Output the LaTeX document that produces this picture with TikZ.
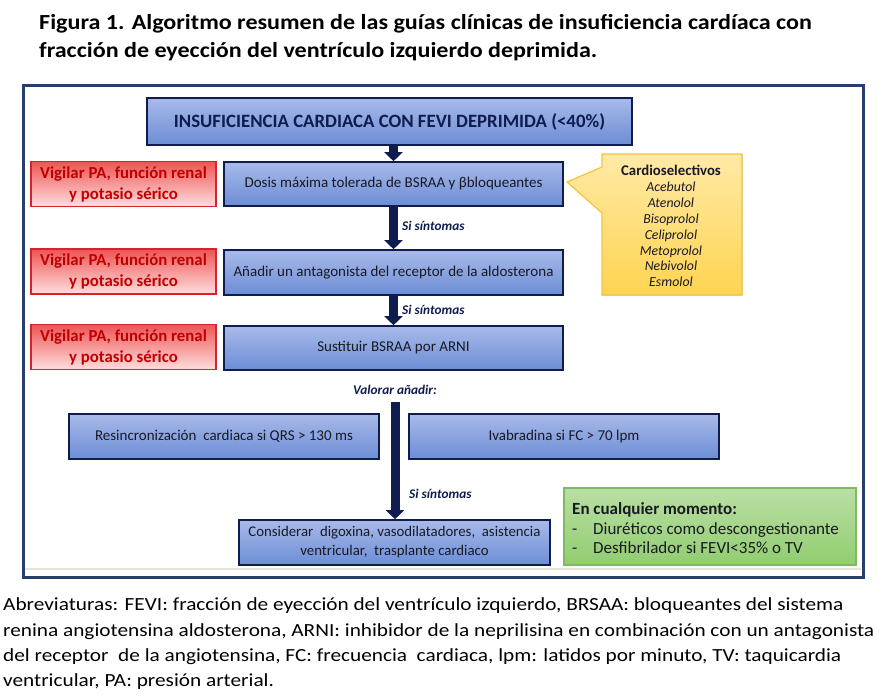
\documentclass[tikz,border=0pt]{standalone}
\usepackage{fontspec}
\setmainfont{Carlito}
\newfontfamily\widefont[FakeStretch=1.12]{Carlito}
\newfontfamily\abbrfont[FakeStretch=1.15]{Carlito}
\usetikzlibrary{arrows.meta}
\definecolor{framenavy}{RGB}{38,62,105}
\definecolor{dnavy}{RGB}{14,28,78}
\definecolor{bluetop}{RGB}{168,186,233}
\definecolor{bluebot}{RGB}{108,141,214}
\definecolor{redtop}{RGB}{238,84,84}
\definecolor{redbot}{RGB}{255,222,222}
\definecolor{redborder}{RGB}{214,36,44}
\definecolor{redtext}{RGB}{192,0,0}
\definecolor{greentop}{RGB}{186,223,164}
\definecolor{greenbot}{RGB}{145,205,112}
\definecolor{greenborder}{RGB}{128,186,96}
\definecolor{yeltop}{RGB}{255,234,165}
\definecolor{yelbot}{RGB}{255,212,82}
\definecolor{yelborder}{RGB}{244,196,64}
\definecolor{linegray}{RGB}{232,228,214}
\definecolor{boxtext}{RGB}{25,25,35}
\begin{document}
\begin{tikzpicture}[x=1pt,y=-1pt,
  bluebox/.style={rectangle, draw=dnavy, line width=1.6pt, top color=bluetop, bottom color=bluebot,
    inner sep=0pt, align=center, text=boxtext, font=\fontsize{15}{19}\selectfont},
  redbox/.style={rectangle, draw=redborder, line width=1.4pt, top color=redtop, bottom color=redbot,
    inner sep=0pt, align=center, text=redtext, font=\bfseries\fontsize{16.8}{21}\selectfont,
    minimum width=185pt, minimum height=45pt},
  flow/.style={draw=dnavy, line width=9pt, -{Triangle[width=18pt,length=9pt]}},
  sinto/.style={anchor=west, text=dnavy, font=\bfseries\itshape\fontsize{13.3}{15}\selectfont, inner sep=0pt},
  titletext/.style={anchor=base west, inner sep=0pt, font=\widefont\bfseries\fontsize{21.5}{28}\selectfont},
  abbrtext/.style={anchor=base west, inner sep=0pt, font=\abbrfont\fontsize{18.5}{25}\selectfont}
]
\useasboundingbox (0,0) rectangle (879,697);
% title
\node[titletext] (t1) at (39,29.5) {Figura 1. Algoritmo resumen de las guías clínicas de insuficiencia cardíaca con};
\node[titletext] (t2) at (39,57.5) {fracción de eyección del ventrículo izquierdo deprimida.};
% frame
\draw[framenavy, line width=3pt] (23,85) rectangle (863,577);
\draw[linegray, line width=1.5pt] (25,569) -- (861,569);
% main boxes
\node[bluebox, draw=dnavy, line width=2.8pt, minimum width=485pt, minimum height=47pt,
  text=dnavy, font=\bfseries\fontsize{18.8}{22}\selectfont] (top) at (389.5,121.5)
  {INSUFICIENCIA CARDIACA CON FEVI DEPRIMIDA (<40\%)};
\node[bluebox, minimum width=339pt, minimum height=44pt] (b2) at (393.5,184)
  {Dosis máxima tolerada de BSRAA y βbloqueantes};
\node[bluebox, minimum width=339pt, minimum height=45pt] (b3) at (393.5,272.5)
  {Añadir un antagonista del receptor de la aldosterona};
\node[bluebox, minimum width=339pt, minimum height=44pt] (b4) at (393.5,348)
  {Sustituir BSRAA por ARNI};
\node[bluebox, minimum width=310pt, minimum height=45pt] (resinc) at (224,436.5)
  {Resincronización\ \ cardiaca si QRS > 130 ms};
\node[bluebox, minimum width=310pt, minimum height=45pt] (ivab) at (564,436.5)
  {Ivabradina si FC > 70 lpm};
\node[bluebox, minimum width=311pt, minimum height=45pt, font=\fontsize{14.8}{19}\selectfont] (consider) at (394.5,542.5)
  {Considerar\ \ digoxina, vasodilatadores,\ \ asistencia\\ ventricular,\ \ trasplante cardiaco};
% red boxes
\node[redbox] (r1) at (123.5,184) {Vigilar PA, función renal\\ y potasio sérico};
\node[redbox] (r2) at (123.5,271.5) {Vigilar PA, función renal\\ y potasio sérico};
\node[redbox] (r3) at (123.5,347) {Vigilar PA, función renal\\ y potasio sérico};
% arrows
\draw[flow] (b2.north |- top.south) -- (b2.north);
\draw[flow] (b2.south) -- (b3.north);
\draw[flow] (b3.south) -- (b4.north);
\coordinate (vtop) at (395,402);
\draw[flow] (vtop) -- (vtop |- consider.north);
% labels
\node[sinto] (s1) at (402,226) {Si síntomas};
\node[sinto] (s2) at (402,310) {Si síntomas};
\node[sinto, anchor=center] (val) at (395,390) {Valorar añadir:};
\node[sinto] (s3) at (409,494) {Si síntomas};
% callout
\fill[top color=yeltop, bottom color=yelbot] (602,154) -- (742,154) -- (742,295) -- (602,295) -- (602,213) -- (567,182) -- (602,167) -- cycle;
\draw[yelborder, line width=1.2pt, line join=miter] (602,154) -- (742,154) -- (742,295) -- (602,295) -- (602,213) -- (567,182) -- (602,167) -- cycle;
\node[align=center, inner sep=0pt, text=boxtext, font=\fontsize{13.8}{15.9}\selectfont] (sel) at (671,226)
  {{\fontsize{14.8}{15.9}\selectfont\textbf{Cardioselectivos}}\\ \textit{Acebutol}\\ \textit{Atenolol}\\ \textit{Bisoprolol}\\ \textit{Celiprolol}\\ \textit{Metoprolol}\\ \textit{Nebivolol}\\ \textit{Esmolol}};
% green box
\node[rectangle, draw=greenborder, line width=1.2pt, top color=greentop, bottom color=greenbot,
  minimum width=292pt, minimum height=77pt] (green) at (710,526.5) {};
\node[anchor=west, align=left, inner sep=0pt, text=boxtext, font=\fontsize{17}{19.5}\selectfont] (greentext) at (572,528.5)
  {\textbf{En cualquier momento:}\\ \makebox[21pt][l]{-}Diuréticos como descongestionante\\ \makebox[21pt][l]{-}Desfibrilador si FEVI<35\% o TV};
% abbreviations
\node[abbrtext] (a1) at (3,610) {Abreviaturas: FEVI: fracción de eyección del ventrículo izquierdo, BRSAA: bloqueantes del sistema};
\node[abbrtext] (a2) at (3,636) {renina angiotensina aldosterona, ARNI: inhibidor de la neprilisina en combinación con un antagonista};
\node[abbrtext] (a3) at (3,661) {del receptor\ \ de la angiotensina, FC: frecuencia\ \ cardiaca, lpm: latidos por minuto, TV: taquicardia};
\node[abbrtext] (a4) at (3,686) {ventricular, PA: presión arterial.};
\end{tikzpicture}
\end{document}
